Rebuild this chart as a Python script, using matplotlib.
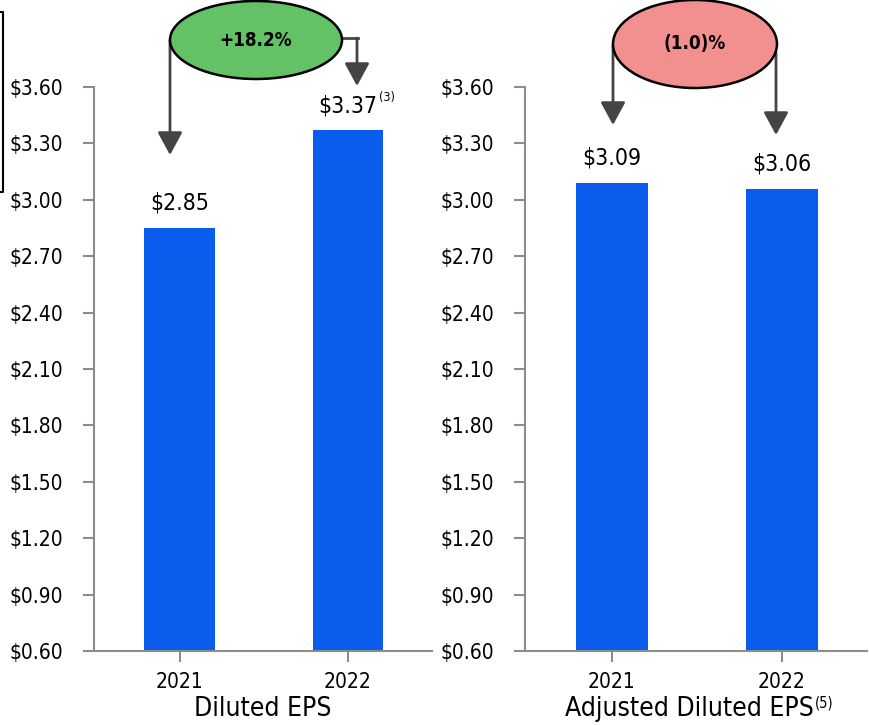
import matplotlib
matplotlib.use("Agg")
import matplotlib.pyplot as plt
from matplotlib.patches import Ellipse, FancyArrowPatch
from matplotlib.lines import Line2D

plt.rcParams['font.family'] = ['DejaVu Sans']
plt.rcParams['font.stretch'] = 'condensed'

# data
years = ["2021", "2022"]
diluted_eps = [2.85, 3.37]
adjusted_eps = [3.09, 3.06]
panel_titles = ["Diluted EPS", "Adjusted Diluted EPS"]
title_notes = ["", "(5)"]
value_notes = [["", "(3)"], ["", ""]]
changes = ["+18.2%", "(1.0)%"]
yticks = [0.60, 0.90, 1.20, 1.50, 1.80, 2.10, 2.40, 2.70, 3.00, 3.30, 3.60]

W, H = 869, 725
bar_color = "#0A5CED"
axis_gray = "#8C8C8C"
arrow_gray = "#444444"


def fx(x):
    return x / W


def fy(y):
    return 1 - y / H


fig = plt.figure(figsize=(W / 100, H / 100), dpi=100)
ax1 = fig.add_axes([fx(94), fy(651), fx(432 - 94), (651 - 87) / H])
ax2 = fig.add_axes([fx(525), fy(651), fx(867 - 525), (651 - 87) / H])

for ax, vals, title, notes in [(ax1, diluted_eps, panel_titles[0], value_notes[0]),
                               (ax2, adjusted_eps, panel_titles[1], value_notes[1])]:
    xs = list(range(len(years)))
    ax.bar(xs, vals, width=0.42, color=bar_color, zorder=2)
    ax.set_ylim(0.6, 3.6)
    ax.set_xlim(-0.51, 1.5)
    ax.set_yticks(yticks)
    ax.set_yticklabels(["$%.2f" % v for v in yticks], fontsize=15)
    ax.set_xticks(xs)
    ax.set_xticklabels(years, fontsize=15)
    for s in ["top", "right"]:
        ax.spines[s].set_visible(False)
    for s in ["left", "bottom"]:
        ax.spines[s].set_color(axis_gray)
        ax.spines[s].set_linewidth(1.5)
    ax.tick_params(axis="both", colors=axis_gray, width=1.5, length=8, labelcolor="black")
    ax.tick_params(axis="y", pad=14)
    ax.tick_params(axis="x", pad=7)
    ax.set_xlabel(title, fontsize=19, labelpad=3)
    for x, v, note in zip(xs, vals, notes):
        t = ax.annotate("$%.2f" % v, (x, v), xytext=(0, 13), textcoords="offset points",
                        ha="center", va="baseline", fontsize=16.5)
        if note:
            fig.canvas.draw()
            bb = t.get_window_extent()
            fig.text(bb.x1 / W + 0.002, bb.y1 / H - 0.014, note, fontsize=9, va="bottom")

# superscript on the second panel title
fig.canvas.draw()
lab = ax2.xaxis.label
lab.set_x(0.5 - 0.02)
fig.canvas.draw()
bb = lab.get_window_extent()
fig.text(bb.x1 / W + 0.002, bb.y1 / H - 0.02, title_notes[1], fontsize=10.5, va="bottom")

# change bubbles
bubbles = [((256, 40), 172, 78, "#62C265", changes[0]),
           ((695, 44), 164, 88, "#F28F8F", changes[1])]
for (cx, cy), w, h, col, txt in bubbles:
    e = Ellipse((fx(cx), fy(cy)), w / W, h / H, transform=fig.transFigure,
                facecolor=col, edgecolor="black", lw=1.8, zorder=5)
    fig.add_artist(e)
    fig.text(fx(cx), fy(cy), txt, ha="center", va="center", fontsize=13.5,
             fontweight="bold", zorder=6)


def line(x0, y0, x1, y1):
    fig.add_artist(Line2D([fx(x0), fx(x1)], [fy(y0), fy(y1)], transform=fig.transFigure,
                          color=arrow_gray, lw=2))


def arrow_down(x, y0, y1):
    fig.add_artist(FancyArrowPatch((fx(x), fy(y0)), (fx(x), fy(y1)), transform=fig.transFigure,
                                   arrowstyle="-|>,head_length=0.7,head_width=0.38",
                                   color=arrow_gray, lw=2, mutation_scale=20,
                                   shrinkA=0, shrinkB=0, zorder=4))


arrow_down(170, 40, 155)
line(342, 38, 358, 38)
arrow_down(357, 38, 86)
arrow_down(613, 45, 125)
arrow_down(776, 53, 135)

# bracket at the left edge
fig.add_artist(Line2D([fx(0), fx(3), fx(3), fx(0)], [fy(12), fy(12), fy(192), fy(192)],
                      transform=fig.transFigure, color="black", lw=1.5))

fig.savefig("out.png", dpi=100)
